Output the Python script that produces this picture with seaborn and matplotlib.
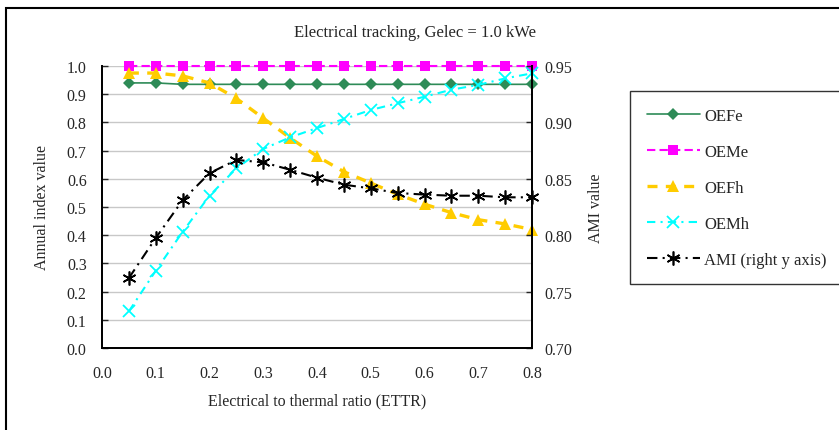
import numpy as np
import pandas as pd
import seaborn as sns
import matplotlib.pyplot as plt
from matplotlib.patches import Rectangle

ettr = [0.05, 0.10, 0.15, 0.20, 0.25, 0.30, 0.35, 0.40,
        0.45, 0.50, 0.55, 0.60, 0.65, 0.70, 0.75, 0.80]
oefe = [0.94, 0.94, 0.935, 0.935, 0.935, 0.935, 0.935, 0.935,
        0.935, 0.935, 0.935, 0.935, 0.935, 0.935, 0.935, 0.935]
oeme = [1.0] * 16
oefh = [0.975, 0.975, 0.965, 0.94, 0.885, 0.815, 0.745, 0.68,
        0.625, 0.585, 0.545, 0.51, 0.48, 0.455, 0.44, 0.42]
oemh = [0.13, 0.274, 0.412, 0.54, 0.637, 0.706, 0.747, 0.78,
        0.812, 0.844, 0.868, 0.891, 0.916, 0.933, 0.956, 0.974]
ami = [0.762, 0.7975, 0.831, 0.855, 0.8667, 0.8646, 0.858, 0.851,
       0.8448, 0.8415, 0.8374, 0.836, 0.835, 0.835, 0.8336, 0.8336]

sns.set_style('white')
plt.rcParams['font.family'] = ['Liberation Serif', 'DejaVu Serif']
FS = 11.5

df = pd.DataFrame({'ETTR': ettr, 'OEFe': oefe, 'OEMe': oeme,
                   'OEFh': oefh, 'OEMh': oemh, 'AMI': ami})

W, H = 839, 431
fig = plt.figure(figsize=(W / 100, H / 100), dpi=100)
ax = fig.add_axes([102 / W, 1 - 349 / H, 430 / W, 282 / H])
ax2 = ax.twinx()

# outer frame of the chart area
fig.add_artist(Rectangle((6 / W, -0.1), 1.2, 1.1 - 9 / H, transform=fig.transFigure,
                         fill=False, edgecolor='black', linewidth=1.5, clip_on=False))

sns.lineplot(data=df, x='ETTR', y='OEFe', ax=ax, color='#2E8B57', marker='D',
             markersize=6, markeredgewidth=0, linewidth=1.2, label='OEFe', clip_on=False)
sns.lineplot(data=df, x='ETTR', y='OEMe', ax=ax, color='#FF00FF', marker='s',
             markersize=7, markeredgewidth=0, linewidth=1.5, label='OEMe', clip_on=False)
sns.lineplot(data=df, x='ETTR', y='OEFh', ax=ax, color='#FFCC00', marker='^',
             markersize=9, markeredgewidth=0, linewidth=2.4, label='OEFh', clip_on=False)
sns.lineplot(data=df, x='ETTR', y='OEMh', ax=ax, color='#00FFFF', marker='x',
             markersize=8, markeredgewidth=1.3, markeredgecolor='#00FFFF',
             linewidth=1.5, label='OEMh', clip_on=False)
sns.lineplot(data=df, x='ETTR', y='AMI', ax=ax2, color='black', marker=(6, 2, 0),
             markersize=10, markeredgewidth=1.2, markeredgecolor='black',
             linewidth=1.5, label='AMI (right y axis)', clip_on=False)

ax.lines[1].set_dashes((4, 2))
ax.lines[2].set_dashes((3, 2.5))
ax.lines[3].set_dashes((4, 2.5, 1, 2.5))
ax2.lines[0].set_dashes((5, 2.5, 1, 2.5))

ax.set_xlim(0, 0.8)
ax.set_ylim(0, 1.0)
ax2.set_ylim(0.70, 0.95)
ax.set_xticks(np.arange(0, 0.81, 0.1))
ax.set_yticks(np.arange(0, 1.01, 0.1))
ax2.set_yticks(np.arange(0.70, 0.951, 0.05))
ax.xaxis.set_major_formatter(plt.FormatStrFormatter('%.1f'))
ax.yaxis.set_major_formatter(plt.FormatStrFormatter('%.1f'))
ax2.yaxis.set_major_formatter(plt.FormatStrFormatter('%.2f'))

ax.grid(axis='y', color='#C8C8C8', linewidth=1)
ax.set_axisbelow(True)
ax2.grid(False)
for a in (ax, ax2):
    a.spines['top'].set_visible(False)
    for s in ('left', 'right', 'bottom'):
        a.spines[s].set_color('black')
        a.spines[s].set_linewidth(1.3)
ax.tick_params(axis='x', direction='in', length=4, width=1, pad=12, labelsize=FS)
ax.tick_params(axis='y', direction='in', length=4, width=1, pad=11, labelsize=FS)
ax2.tick_params(axis='y', direction='in', length=4, width=1, pad=9, labelsize=FS)

ax.set_xlabel('Electrical to thermal ratio (ETTR)', fontsize=FS)
ax.set_ylabel('Annual index value', fontsize=FS)
ax2.set_ylabel('AMI value', fontsize=FS)
ax.xaxis.set_label_coords(0.5, -0.156)
ax.yaxis.set_label_coords(-0.122, 0.5)
ax2.yaxis.set_label_coords(1.13, 0.5)

fig.text(415 / W, 1 - 33 / H, 'Electrical tracking, Gelec = 1.0 kWe',
         ha='center', va='center', fontsize=12)

h1, l1 = ax.get_legend_handles_labels()
h2, l2 = ax2.get_legend_handles_labels()
ax.get_legend().remove()
ax2.get_legend().remove()
leg = fig.legend(h1 + h2, l1 + l2, loc='upper left', bbox_to_anchor=(630 / W, 1 - 92 / H),
                 borderaxespad=0, frameon=True, fancybox=False, edgecolor='black', fontsize=12,
                 handlelength=3.2, handletextpad=0.25, labelspacing=1.2, borderpad=1.0)
leg.get_frame().set_linewidth(1.0)

fig.savefig('out.png', dpi=100)
